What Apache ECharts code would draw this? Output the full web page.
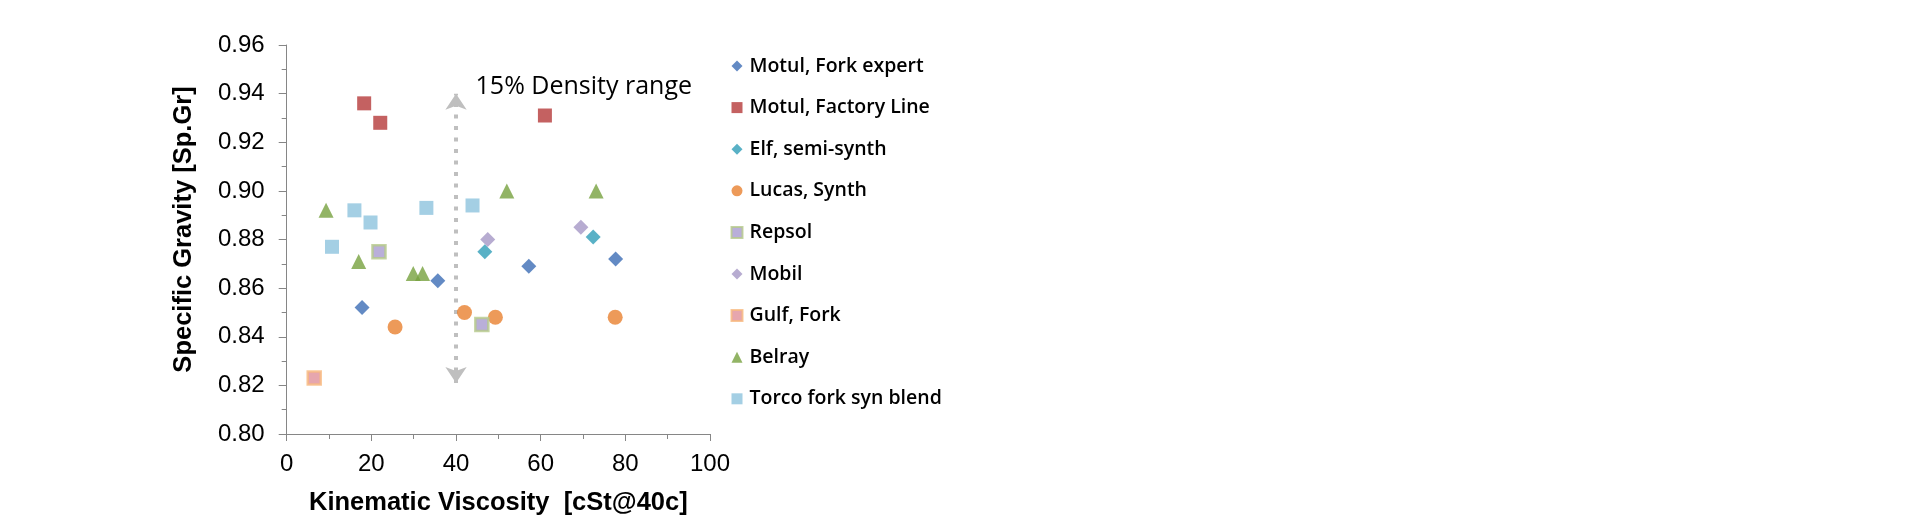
<!DOCTYPE html>
<html><head><meta charset="utf-8">
<script src="https://cdn.jsdelivr.net/npm/echarts@6/dist/echarts.min.js"></script>
<style>html,body{margin:0;padding:0;background:#fff}#c{width:1920px;height:524px}</style>
</head><body><div id="c"></div>
<script>
// ---- data ----
const seriesNames = ["Motul, Fork expert","Motul, Factory Line","Elf, semi-synth","Lucas, Synth","Repsol","Mobil","Gulf, Fork","Belray","Torco fork syn blend"];
const motulFork    = [[17.8,0.852],[35.7,0.863],[57.2,0.869],[77.7,0.872]];
const motulFactory = [[18.3,0.936],[22.1,0.928],[61.0,0.931]];
const elfSemi      = [[46.8,0.875],[72.4,0.881]];
const lucasSynth   = [[25.6,0.844],[42.0,0.850],[49.3,0.848],[77.6,0.848]];
const repsol       = [[21.8,0.875],[46.1,0.845]];
const mobil        = [[47.5,0.880],[69.5,0.885]];
const gulfFork     = [[6.5,0.823]];
const belray       = [[9.3,0.892],[17.0,0.871],[29.9,0.866],[32.1,0.866],[52.0,0.900],[73.1,0.900]];
const torco        = [[10.7,0.877],[16.0,0.892],[19.8,0.887],[33.0,0.893],[43.9,0.894]];
const arrowX = 40;
const arrowRange = [0.821, 0.940];
const annotation = "15% Density range";
const xName = "Kinematic Viscosity  [cSt@40c]";
const yName = "Specific Gravity [Sp.Gr]";

// ---- styles ----
const styles = [
  {symbol:'diamond', size:15, color:'#3C6DB5'},
  {symbol:'rect', size:14, color:'#B5393A'},
  {symbol:'diamond', size:15, color:'#2F9DB8'},
  {symbol:'circle', size:15, color:'#E8812F'},
  {symbol:'rect', size:13, color:'#A89BD0', border:'#B5C98A'},
  {symbol:'diamond', size:15, color:'#A597C6'},
  {symbol:'rect', size:13, color:'#E0909A', border:'#F8B97E'},
  {symbol:'triangle', size:15, color:'#77A13E'},
  {symbol:'rect', size:14, color:'#8DC3DD'}
];
const datasets = [motulFork, motulFactory, elfSemi, lucasSynth, repsol, mobil, gulfFork, belray, torco];

const series = datasets.map((d,i)=>{
  const s = styles[i];
  return {
    name: seriesNames[i], type:'scatter', data:d,
    symbol:s.symbol, symbolSize:s.size,
    itemStyle: s.border ? {color:s.color, borderColor:s.border, borderWidth:2.5} : {color:s.color},
    emphasis:{disabled:true}, z: 3 + i
  };
});
series.push({
  type:'scatter', data:[], silent:true,
  markLine:{
    silent:true, symbol:['arrow','arrow'], symbolSize:[16,16],
    label:{show:false},
    lineStyle:{color:'#BFBFBF', type:[4,7.5], width:4},
    data:[[{coord:[arrowX, arrowRange[0]]},{coord:[arrowX, arrowRange[1]]}]]
  },
  markPoint:{
    silent:true, symbol:'rect', symbolSize:1, itemStyle:{color:'transparent'},
    label:{show:true, formatter:annotation, position:'right', distance:0,
      color:'#000', fontFamily:'Open Sans', fontSize:25},
    data:[{coord:[arrowX+4.5, arrowRange[1]+0.0028]}]
  }
});

const chart = echarts.init(document.getElementById('c'), null, {renderer:'canvas'});
chart.setOption({
  animation:false,
  backgroundColor:'#fff',
  grid:{left:286.7, top:45, right:1210, bottom:90, containLabel:false},
  xAxis:{
    type:'value', min:0, max:100, interval:20,
    name:xName, nameLocation:'middle', nameGap:56,
    nameTextStyle:{fontFamily:'Liberation Sans', fontWeight:'bold', fontSize:25.5, color:'#000'},
    axisLine:{show:true, lineStyle:{color:'#868686', width:1}},
    axisTick:{show:true, length:7, lineStyle:{color:'#868686'}},
    minorTick:{show:true, splitNumber:2, length:5, lineStyle:{color:'#868686'}},
    splitLine:{show:false},
    axisLabel:{fontFamily:'Liberation Sans', fontSize:24, color:'#000', margin:18}
  },
  yAxis:{
    type:'value', min:0.80, max:0.96, interval:0.02,
    name:yName, nameLocation:'middle', nameGap:90,
    nameTextStyle:{fontFamily:'Liberation Sans', fontWeight:'bold', fontSize:25.5, color:'#000', padding:[0,0,0,20]},
    axisLine:{show:true, lineStyle:{color:'#868686', width:1}},
    axisTick:{show:true, length:8, lineStyle:{color:'#868686'}},
    minorTick:{show:true, splitNumber:2, length:5, lineStyle:{color:'#868686'}},
    splitLine:{show:false},
    axisLabel:{fontFamily:'Liberation Sans', fontSize:24, color:'#000', margin:22,
      formatter:v=>v.toFixed(2)}
  },
  legend:{
    orient:'vertical', left:725.5, top:50,
    itemWidth:11, itemHeight:11, itemGap:19.6,
    data:seriesNames,
    textStyle:{fontFamily:'Open Sans', fontWeight:600, fontSize:19.5, color:'#000', lineHeight:22, padding:[0,0,0,2]}
  },
  series:series
});
</script></body></html>
